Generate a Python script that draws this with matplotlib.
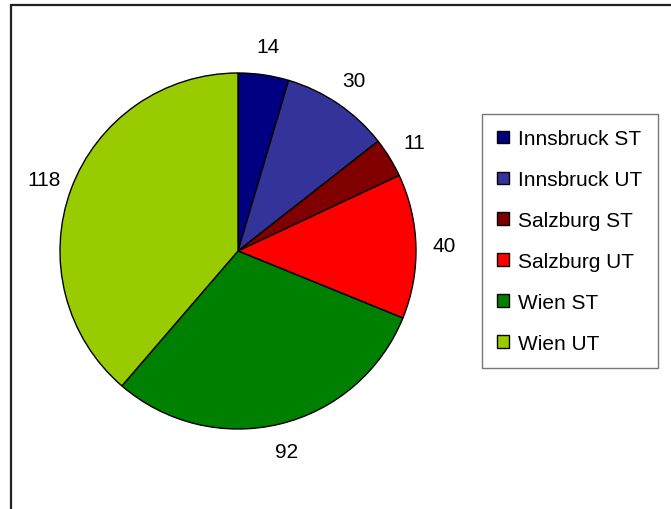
import matplotlib.pyplot as plt
from matplotlib.patches import Rectangle

plt.rcParams['font.family'] = ['Liberation Sans', 'DejaVu Sans']

# Daten
labels = ['Innsbruck ST', 'Innsbruck UT', 'Salzburg ST', 'Salzburg UT', 'Wien ST', 'Wien UT']
values = [14, 30, 11, 40, 92, 118]
colors = ['#000080', '#333399', '#800000', '#ff0000', '#008000', '#99cc00']

W, H = 671, 510
fig = plt.figure(figsize=(W / 100, H / 100), dpi=100)

# Rahmen (rechts und unten abgeschnitten)
fig.patches.append(Rectangle((11 / W, -0.1), 1.2, 1.1 - 6 / H, transform=fig.transFigure,
                             fill=False, edgecolor='#222222', linewidth=1.6))

cx, cy, r = 238, 252, 178
ax = fig.add_axes([(cx - r) / W, 1 - (cy + r) / H, 2 * r / W, 2 * r / H])
total = sum(values)
wedges, texts, autotexts = ax.pie(values, colors=colors, startangle=90, counterclock=False,
                                  radius=1, autopct=lambda p: '%d' % round(p * total / 100),
                                  pctdistance=1.16,
                                  wedgeprops=dict(edgecolor='black', linewidth=1),
                                  textprops=dict(fontsize=15, color='black'))
ax.set_aspect('equal')
ax.set_xlim(-1, 1)
ax.set_ylim(-1, 1)
ax.axis('off')

leg = fig.legend(wedges, labels, loc='center', bbox_to_anchor=(570 / W, 1 - 242 / H),
                 fontsize=15, frameon=True, fancybox=False, edgecolor='#555555',
                 handlelength=0.55, handleheight=0.55, labelspacing=1.05,
                 handletextpad=0.45, borderpad=0.75, borderaxespad=0)
leg.get_frame().set_linewidth(1)

fig.savefig('out.png', dpi=100)
